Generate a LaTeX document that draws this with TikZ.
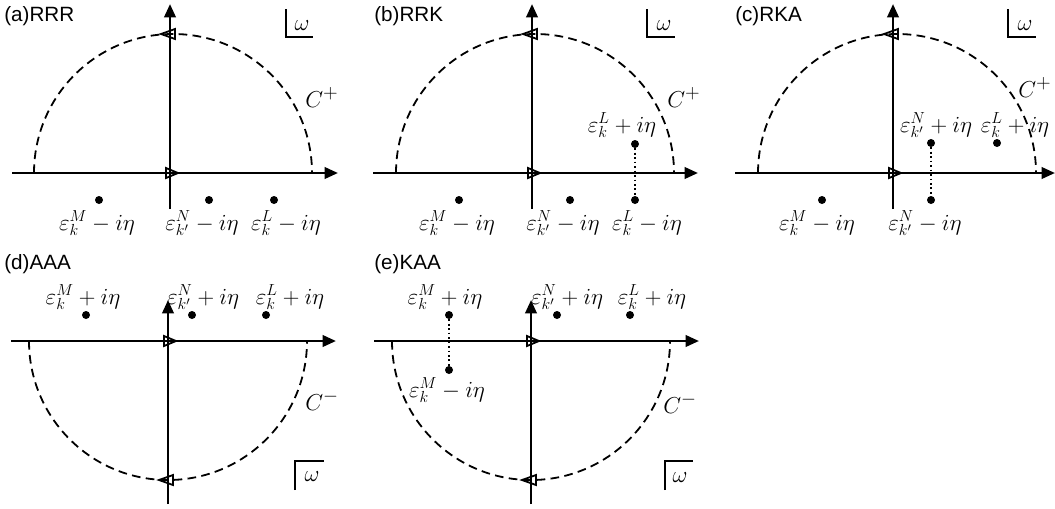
\documentclass[tikz,border=0pt]{standalone}
\usepackage{fontspec}
\setmainfont{Liberation Sans}
\usetikzlibrary{arrows.meta}
\begin{document}
\begin{tikzpicture}[x=0.75pt,y=-0.75pt,
  axis/.style={line width=2pt,-{Triangle[length=10pt,width=8.5pt]}},
  contour/.style={line width=1.35pt,dash pattern=on 6.5pt off 4pt},
  tri/.style={line width=1.35pt},
  dot/.style={circle,fill=black,inner sep=0pt,minimum size=6pt},
  vline/.style={line width=1.35pt,dotted},
  wbox/.style={line width=1.35pt},
  lab/.style={anchor=base,inner sep=0pt,font=\fontsize{17.5}{20}\selectfont},
  ttl/.style={anchor=base west,inner sep=0pt,font=\fontsize{15.5}{18}\selectfont},
  cl/.style={anchor=base west,inner sep=0pt,font=\fontsize{19}{22}\selectfont}]
\useasboundingbox (0,0) rectangle (1055,508);

% ---------------- (a) RRR ----------------
\node[ttl] (ta) at (4,21) {(a)RRR};
\coordinate (a-xl) at (12,173); \coordinate (a-xr) at (338,173);
\coordinate (a-yb) at (170,209); \coordinate (a-yt) at (170,4);
\draw[contour] (34,173) arc[start angle=180,end angle=360,radius=139];
\draw[axis] (a-xl) -- (a-xr);
\draw[axis] (a-yb) -- (a-yt);
\draw[tri] (161,34) -- (175,29) -- (175,39) -- cycle;
\draw[tri] (178,173) -- (166,168) -- (166,178) -- cycle;
\node[dot] (a-m) at (99,200) {};
\node[dot] (a-n) at (209,200) {};
\node[dot] (a-l) at (274,200) {};
\node[lab] (a-ml) at (97,230) {$\varepsilon_k^M-i\eta$};
\node[lab] (a-nl) at (202,230) {$\varepsilon_{k'}^N-i\eta$};
\node[lab] (a-ll) at (286,230) {$\varepsilon_k^L-i\eta$};
\node[cl] (a-c) at (305,107) {$C^+$};
\coordinate (a-w1) at (286,9); \coordinate (a-w2) at (286,37); \coordinate (a-w3) at (313,37);
\draw[wbox] (a-w1) -- (a-w2) -- (a-w3);
\node[lab] (a-w) at (302,30) {$\omega$};

% ---------------- (b) RRK ----------------
\node[ttl] (tb) at (374,21) {(b)RRK};
\coordinate (b-xl) at (373,173); \coordinate (b-xr) at (698,173);
\coordinate (b-yb) at (532,209); \coordinate (b-yt) at (532,4);
\draw[contour] (396,173) arc[start angle=180,end angle=360,radius=139];
\draw[axis] (b-xl) -- (b-xr);
\draw[axis] (b-yb) -- (b-yt);
\draw[tri] (523,34) -- (537,29) -- (537,39) -- cycle;
\draw[tri] (540,173) -- (528,168) -- (528,178) -- cycle;
\node[dot] (b-m) at (459,200) {};
\node[dot] (b-n) at (570,200) {};
\node[dot] (b-l) at (635,200) {};
\node[dot] (b-lp) at (635,144) {};
\draw[vline] (b-lp) -- (b-l);
\node[lab] (b-ml) at (457,230) {$\varepsilon_k^M-i\eta$};
\node[lab] (b-nl) at (563,230) {$\varepsilon_{k'}^N-i\eta$};
\node[lab] (b-ll) at (647,230) {$\varepsilon_k^L-i\eta$};
\node[lab] (b-lpl) at (622,132) {$\varepsilon_k^L+i\eta$};
\node[cl] (b-c) at (667,107) {$C^+$};
\coordinate (b-w1) at (647,9); \coordinate (b-w2) at (647,37); \coordinate (b-w3) at (675,37);
\draw[wbox] (b-w1) -- (b-w2) -- (b-w3);
\node[lab] (b-w) at (664,30) {$\omega$};

% ---------------- (c) RKA ----------------
\node[ttl] (tc) at (735,21) {(c)RKA};
\coordinate (c-xl) at (735,173); \coordinate (c-xr) at (1055,173);
\coordinate (c-yb) at (893,209); \coordinate (c-yt) at (893,4);
\draw[contour] (758,173) arc[start angle=180,end angle=360,radius=139];
\draw[axis] (c-xl) -- (c-xr);
\draw[axis] (c-yb) -- (c-yt);
\draw[tri] (884,34) -- (898,29) -- (898,39) -- cycle;
\draw[tri] (901,173) -- (889,168) -- (889,178) -- cycle;
\node[dot] (c-m) at (822,200) {};
\node[dot] (c-n) at (931,200) {};
\node[dot] (c-np) at (931,143) {};
\node[dot] (c-lp) at (997,143) {};
\draw[vline] (c-np) -- (c-n);
\node[lab] (c-ml) at (817,230) {$\varepsilon_k^M-i\eta$};
\node[lab] (c-nl) at (925,230) {$\varepsilon_{k'}^N-i\eta$};
\node[lab] (c-npl) at (936,132) {$\varepsilon_{k'}^N+i\eta$};
\node[lab] (c-lpl) at (1015,132) {$\varepsilon_k^L+i\eta$};
\node[cl] (c-c) at (1018,97) {$C^+$};
\coordinate (c-w1) at (1008,9); \coordinate (c-w2) at (1008,37); \coordinate (c-w3) at (1036,37);
\draw[wbox] (c-w1) -- (c-w2) -- (c-w3);
\node[lab] (c-w) at (1025,30) {$\omega$};

% ---------------- (d) AAA ----------------
\node[ttl] (td) at (4,269) {(d)AAA};
\coordinate (d-xl) at (11,341); \coordinate (d-xr) at (336,341);
\coordinate (d-yb) at (168,504); \coordinate (d-yt) at (168,300);
\draw[contour] (29,341) arc[start angle=180,end angle=0,radius=139];
\draw[axis] (d-xl) -- (d-xr);
\draw[axis] (d-yb) -- (d-yt);
\draw[tri] (159,480) -- (173,475) -- (173,485) -- cycle;
\draw[tri] (176,341) -- (164,336) -- (164,346) -- cycle;
\node[dot] (d-m) at (86,315) {};
\node[dot] (d-n) at (192,315) {};
\node[dot] (d-l) at (266,315) {};
\node[lab] (d-ml) at (83,304) {$\varepsilon_k^M+i\eta$};
\node[lab] (d-nl) at (203,304) {$\varepsilon_{k'}^N+i\eta$};
\node[lab] (d-ll) at (290,304) {$\varepsilon_k^L+i\eta$};
\node[cl] (d-c) at (305,410) {$C^-$};
\coordinate (d-w1) at (295,490); \coordinate (d-w2) at (295,461); \coordinate (d-w3) at (324,461);
\draw[wbox] (d-w1) -- (d-w2) -- (d-w3);
\node[lab] (d-w) at (312,481) {$\omega$};

% ---------------- (e) KAA ----------------
\node[ttl] (te) at (374,269) {(e)KAA};
\coordinate (e-xl) at (374,341); \coordinate (e-xr) at (699,341);
\coordinate (e-yb) at (531,504); \coordinate (e-yt) at (531,300);
\draw[contour] (392,341) arc[start angle=180,end angle=0,radius=139];
\draw[axis] (e-xl) -- (e-xr);
\draw[axis] (e-yb) -- (e-yt);
\draw[tri] (522,480) -- (536,475) -- (536,485) -- cycle;
\draw[tri] (539,341) -- (527,336) -- (527,346) -- cycle;
\node[dot] (e-m) at (449,315) {};
\node[dot] (e-mm) at (449,370) {};
\node[dot] (e-n) at (557,315) {};
\node[dot] (e-l) at (630,315) {};
\draw[vline] (e-m) -- (e-mm);
\node[lab] (e-ml) at (445,304) {$\varepsilon_k^M+i\eta$};
\node[lab] (e-mml) at (447,397) {$\varepsilon_k^M-i\eta$};
\node[lab] (e-nl) at (567,304) {$\varepsilon_{k'}^N+i\eta$};
\node[lab] (e-ll) at (652,304) {$\varepsilon_k^L+i\eta$};
\node[cl] (e-c) at (663,413) {$C^-$};
\coordinate (e-w1) at (665,490); \coordinate (e-w2) at (665,461); \coordinate (e-w3) at (693,461);
\draw[wbox] (e-w1) -- (e-w2) -- (e-w3);
\node[lab] (e-w) at (680,482) {$\omega$};
\end{tikzpicture}
\end{document}
